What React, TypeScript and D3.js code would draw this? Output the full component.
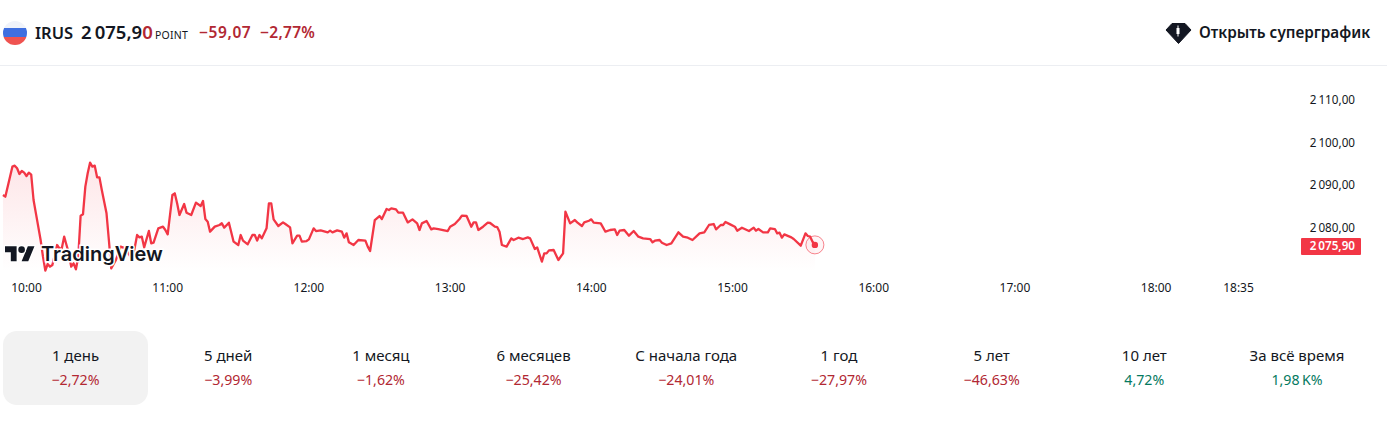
import * as d3 from "d3"

const FONT = "'Noto Sans', sans-serif"
const RED = "#f23645"
const RED_TEXT = "#b22833"
const GREEN_TEXT = "#057a5f"

// minutes after 10:00
const minutes = [
  -10, -9, -7, -6, -5, -4, -3, -2, -1, 0, 1, 2, 3, 4, 6, 7, 8, 9, 10, 11, 13, 14, 15, 16, 17, 18, 19, 20, 21, 22, 23, 24, 25, 26, 27, 28, 29, 30, 31, 32, 34, 35, 36, 38, 40, 42, 45, 47, 48, 49, 50, 52, 53, 54, 56, 58, 59, 60,
  62, 63, 64, 65, 67, 68, 70, 72, 74, 75, 76, 77, 78, 80, 82, 83, 84, 86, 88, 90, 91, 92, 94, 96, 97, 98, 99, 100, 102, 103, 104, 105, 107, 109, 110, 112, 113, 115, 116, 117,
  119, 120, 122, 123, 125, 128, 129, 130, 132, 134, 135, 136, 137, 139, 141, 144, 145, 146, 148, 150, 151, 153, 154, 155, 157, 158, 160, 162, 164, 166, 167, 168, 170, 172, 173, 175, 179, 180, 182, 184, 185, 187, 189, 190, 191, 192, 194, 196, 197, 199, 200, 201, 202, 204, 206, 207, 209, 211, 213, 214, 216, 217, 219, 220, 221, 222, 224, 226, 228, 229, 231, 233, 234, 236, 237, 239, 240,
  241, 244, 246, 248, 250, 251, 252, 254, 256, 258, 260, 262, 265, 266, 267, 269, 270, 272, 274, 277, 279, 281, 283, 286, 288, 290, 292, 293, 295, 296, 297, 299, 301, 302, 304, 307, 309, 310, 311, 313, 315, 316, 318, 319, 320, 321, 322, 325, 326, 329, 331, 332, 333, 334, 335,
]

const prices = [
  2087.67, 2087.27, 2091.99, 2094.35, 2094.58, 2093.96, 2092.62, 2093.33, 2092.93, 2092.15, 2092.93, 2092.46, 2086.49, 2083.34, 2077.05, 2073.12, 2069.82, 2071.39, 2070.76, 2071.16, 2075.87, 2075.09, 2075.09, 2077.84, 2075.87, 2073.91, 2070.76, 2071.55, 2070.14, 2073.12, 2082.79, 2083.11, 2089.63, 2092.78, 2095.29, 2094.35, 2094.58, 2091.83, 2091.83, 2088.85, 2083.34, 2077.05, 2070.37, 2072.34, 2075.48, 2075.09, 2072.34, 2078.23, 2077.68, 2077.84, 2075.32, 2079.18, 2076.27, 2076.42, 2079.81, 2080.2, 2079.41, 2078.39,
  2087.67, 2088.06, 2085.7, 2082.95, 2085.54, 2083.5, 2082.95, 2085.86, 2085.07, 2086.25, 2082.0, 2081.38, 2079.02, 2080.2, 2080.59, 2080.99, 2079.96, 2081.14, 2076.66, 2075.87, 2078.23, 2076.9, 2076.03, 2078.23, 2078.23, 2076.9, 2078.23, 2077.45, 2079.81, 2085.7, 2085.7, 2081.93, 2080.36, 2081.22, 2080.83, 2080.04, 2076.27, 2078.08, 2078.08, 2076.66,
  2076.81, 2077.2, 2079.8, 2079.17, 2079.33, 2078.86, 2079.25, 2078.86, 2079.33, 2079.01, 2077.6, 2078.62, 2076.5, 2075.87, 2077.05, 2076.89, 2075.48, 2074.45, 2081.76, 2082.71, 2082.0, 2084.36, 2084.12, 2084.52, 2084.28, 2083.5, 2083.5, 2081.2, 2081.92, 2080.98, 2079.41, 2080.98, 2081.53, 2079.56, 2079.8, 2079.64, 2079.17, 2080.19, 2080.82, 2082.0, 2082.79, 2082.71, 2080.19, 2081.21, 2081.21, 2079.41, 2080.19, 2081.14, 2081.06, 2080.19, 2080.11, 2079.0, 2075.87, 2075.48, 2077.44, 2077.05, 2077.6, 2077.28, 2077.68, 2077.44, 2074.93, 2075.32, 2071.94, 2073.9, 2073.9, 2074.61, 2074.69, 2072.33, 2073.9, 2083.73, 2080.98, 2081.76, 2081.21, 2080.35, 2081.21, 2081.6, 2081.92,
  2081.14, 2080.98, 2079.01, 2079.41, 2079.56, 2078.23, 2079.25, 2079.41, 2078.07, 2079.17, 2077.83, 2077.44, 2077.28, 2076.5, 2076.89, 2077.05, 2076.42, 2075.87, 2076.26, 2078.86, 2077.83, 2077.6, 2077.05, 2078.62, 2078.86, 2080.59, 2080.82, 2079.56, 2080.59, 2080.59, 2081.29, 2080.74, 2080.19, 2079.25, 2079.96, 2079.17, 2079.96, 2079.25, 2079.64, 2078.86, 2078.86, 2079.8, 2079.64, 2078.62, 2078.78, 2077.6, 2078.38, 2077.68, 2077.28, 2075.71, 2078.62, 2078.0, 2077.83, 2076.65, 2075.9,
]

const priceTicks = [2080, 2090, 2100, 2110]
const timeTicks = [
  { at: 0, label: "10:00" },
  { at: 60, label: "11:00" },
  { at: 120, label: "12:00" },
  { at: 180, label: "13:00" },
  { at: 240, label: "14:00" },
  { at: 300, label: "15:00" },
  { at: 360, label: "16:00" },
  { at: 420, label: "17:00" },
  { at: 480, label: "18:00" },
  { at: 515, label: "18:35" },
]

const periods = ["1 день", "5 дней", "1 месяц", "6 месяцев", "С начала года", "1 год", "5 лет", "10 лет", "За всё время"]
const periodChanges = ["−2,72%", "−3,99%", "−1,62%", "−25,42%", "−24,01%", "−27,97%", "−46,63%", "4,72%", "1,98\u2009K%"]

const lastPrice = prices[prices.length - 1]

const x = d3.scaleLinear().domain([0, 515]).range([26.5, 1238.5])
const y = d3.scaleLinear().domain([2080, 2110]).range([227.5, 100.3])
const tabX = d3.scaleLinear().domain([0, 8]).range([75.5, 1297])

const idx = d3.range(minutes.length)
const line = d3.line<number>().x(i => x(minutes[i])).y(i => y(prices[i]))
const area = d3.area<number>().x(i => x(minutes[i])).y0(272).y1(i => y(prices[i]))

const priceFormat = (v: number) => {
  const s = v.toFixed(2).replace(".", ",")
  return s.slice(0, 1) + "\u2009" + s.slice(1)
}

export default function App() {
  return (
    <svg
      width={1387}
      height={445}
      style={{ position: "absolute", left: 0, top: 0, background: "#fff", fontFamily: FONT }}
    >
      <defs>
        <linearGradient id="areaFill" gradientUnits="userSpaceOnUse" x1="0" y1="160" x2="0" y2="272">
          <stop offset="0" stopColor={RED} stopOpacity={0.13} />
          <stop offset="1" stopColor={RED} stopOpacity={0} />
        </linearGradient>
        <clipPath id="flagClip">
          <circle cx={15} cy={33} r={12} />
        </clipPath>
      </defs>

      {/* header */}
      <g clipPath="url(#flagClip)">
        <rect x={3} y={21} width={24} height={8} fill="#f0f3fa" />
        <rect x={3} y={28} width={24} height={9} fill="#3f6fe0" />
        <rect x={3} y={37} width={24} height={8} fill="#ef5350" />
      </g>
      <text x={35} y={39} fontSize={16.5} fontWeight={600} fill="#131722">IRUS</text>
      <text x={81} y={39} fontSize={18.5} fontWeight={600} fill="#131722">
        2{"\u2009"}075,9<tspan fill={RED_TEXT}>0</tspan>
      </text>
      <text x={155} y={39} fontSize={10.5} fill="#131722" letterSpacing={0.2}>POINT</text>
      <text x={199} y={38} fontSize={15.5} fontWeight={600} letterSpacing={0.6} fill={RED_TEXT}>−59,07</text>
      <text x={260} y={38} fontSize={15.5} fontWeight={600} letterSpacing={0.3} fill={RED_TEXT}>−2,77%</text>

      <path d="M1172 23.500h13l6 6.500-12.500 13.500L1166 30z" fill="#131722" stroke="#131722" strokeWidth={1} strokeLinejoin="round" />
      <rect x={1176.500} y={28} width={3} height={6} fill="#fff" />
      <rect x={1177.500} y={25.500} width={1} height={11} fill="#fff" />
      <text x={1199} y={38} fontSize={15.3} fontWeight={600} fill="#131722">Открыть суперграфик</text>

      <line x1={0} x2={1387} y1={65.5} y2={65.5} stroke="#eceef2" />

      {/* plot */}
      <path d={area(idx) ?? ""} fill="url(#areaFill)" />
      <path d={line(idx) ?? ""} fill="none" stroke={RED} strokeWidth={2.3} strokeLinejoin="round" />
      <circle cx={x(335)} cy={y(lastPrice)} r={9} fill={RED} fillOpacity={0.05} stroke={RED} strokeOpacity={0.6} strokeWidth={1} />
      <circle cx={x(335)} cy={y(lastPrice)} r={3.2} fill={RED} />

      {/* logo */}
      <g transform="translate(5 243) scale(0.83)" fill="#131722" stroke="#fff" strokeWidth={3} paintOrder="stroke">
        <path d="M14 22H7V11H0V4h14v18zM28 22h-8l7.500-18h8L28 22z" />
        <circle cx={20} cy={8} r={4} />
      </g>
      <text x={41} y={261} fontSize={20} fontWeight={600} fontFamily="Inter, sans-serif" fill="#131722" stroke="#fff" strokeWidth={3} paintOrder="stroke">
        TradingView
      </text>

      {/* price axis */}
      {priceTicks.map(t => (
        <text key={t} x={1355} y={y(t)} dy="0.35em" textAnchor="end" fontSize={11.7} fill="#131722">
          {priceFormat(t)}
        </text>
      ))}
      <rect x={1301} y={y(lastPrice) - 7} width={60} height={17} rx={1} fill={RED} />
      <text x={1355} y={y(lastPrice) + 1.500} dy="0.35em" textAnchor="end" fontSize={11.7} fontWeight={600} fill="#fff">
        {priceFormat(lastPrice)}
      </text>

      {/* time axis */}
      {timeTicks.map(t => (
        <text key={t.label} x={x(t.at)} y={288} dy="0.35em" textAnchor="middle" fontSize={12} fill="#131722">
          {t.label}
        </text>
      ))}

      {/* period tabs */}
      <rect x={3} y={331} width={145} height={74} rx={14} fill="#f2f2f2" />
      {periods.map((p, i) => (
        <g key={p}>
          <text x={tabX(i)} y={356} dy="0.35em" textAnchor="middle" fontSize={15} fill="#131722">{p}</text>
          <text
            x={tabX(i)}
            y={380}
            dy="0.35em"
            textAnchor="middle"
            fontSize={14.2}
            fill={periodChanges[i].startsWith("−") ? RED_TEXT : GREEN_TEXT}
          >
            {periodChanges[i]}
          </text>
        </g>
      ))}
    </svg>
  )
}
